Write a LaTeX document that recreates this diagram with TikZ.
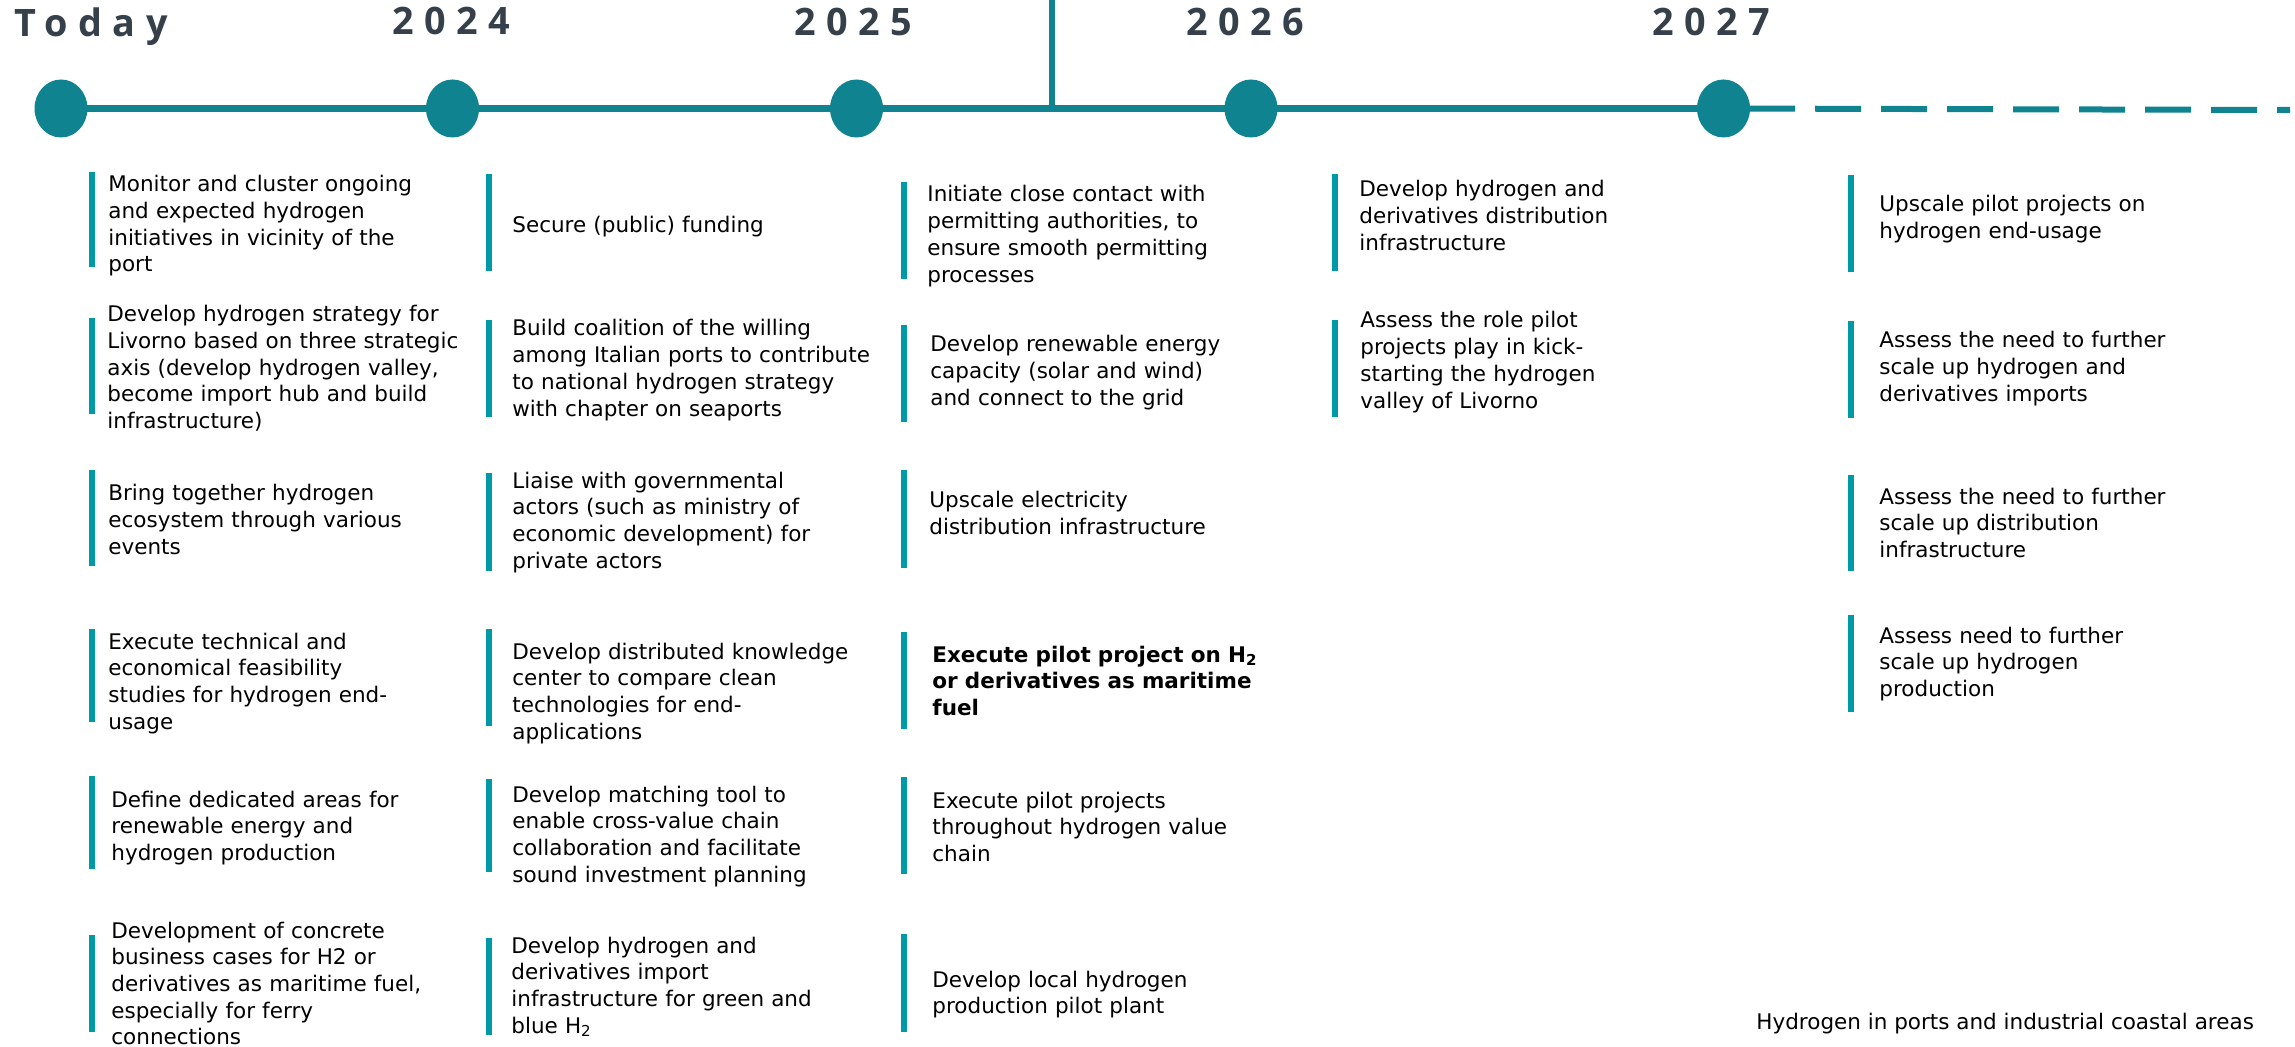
\documentclass[tikz,border=0pt]{standalone}
\usepackage{fontspec}
\setmainfont{DejaVu Sans}
\newfontfamily\yearfont[LetterSpace=28]{Open Sans}
\usetikzlibrary{shapes.geometric}
\definecolor{tlteal}{HTML}{0F838F}
\definecolor{barteal}{HTML}{0099A8}
\definecolor{yeargray}{HTML}{36404A}

\begin{document}
\begin{tikzpicture}[x=0.5pt, y=-0.5pt]
    \tikzstyle{milestone} = [ellipse, fill=tlteal, minimum width=26.5pt,
        minimum height=29pt, inner sep=0pt]
    \tikzstyle{year} = [anchor=base west, inner sep=0pt, text=yeargray,
        font=\yearfont\bfseries\fontsize{18.9}{22}\selectfont]
    \tikzstyle{timeline} = [draw=tlteal, line width=3.5pt]
    \tikzstyle{bar} = [draw=barteal, line width=3pt]
    \tikzstyle{task} = [anchor=base west, inner sep=0pt, text width=220pt,
        align=left, font=\fontsize{10.75}{13.35}\selectfont]
    \useasboundingbox (0,0) rectangle (2295,1047);

    % years
    \node[year] (today) at (14,37) {Today};
    \node[year] (y2024) at (392,35) {2024};
    \node[year] (y2025) at (794,36) {2025};
    \node[year] (y2026) at (1186,36) {2026};
    \node[year] (y2027) at (1652,36) {2027};

    % timeline
    \node[milestone] (m0) at (61,108.5) {};
    \node[milestone] (m1) at (452.5,108.5) {};
    \node[milestone] (m2) at (856.5,108.5) {};
    \node[milestone] (m3) at (1251,108.5) {};
    \node[milestone] (m4) at (1723.5,108.5) {};
    \draw[timeline] (m0.center) -- (m4.center);
    \coordinate (split) at (1052,0);
    \draw[timeline, line width=2.8pt] (split) -- (split |- m0);
    \coordinate (dashbeg) at (1795,108.7);
    \coordinate (tlend) at (2290,110);
    \draw[timeline, line width=3pt] (m4.center) -- (dashbeg);
    \draw[timeline, line width=3pt, dash pattern=on 23pt off 10pt, dash phase=23pt]
        (dashbeg) -- (tlend);

    % today
    \draw[bar] (92,172) -- (92,267);
    \node[task] (monitor) at (108,191.7) {Monitor and cluster ongoing\\and expected hydrogen\\initiatives in vicinity of the\\port};
    \draw[bar] (92,318) -- (92,414);
    \node[task] (strategy) at (107,321.7) {Develop hydrogen strategy for\\Livorno based on three strategic\\axis (develop hydrogen valley,\\become import hub and build\\infrastructure)};
    \draw[bar] (92,470) -- (92,566);
    \node[task] (ecosystem) at (108,501) {Bring together hydrogen\\ecosystem through various\\events};
    \draw[bar] (92,629) -- (92,722);
    \node[task] (feasibility) at (108,649) {Execute technical and\\economical feasibility\\studies for hydrogen end-\\usage};
    \draw[bar] (92,776) -- (92,869);
    \node[task] (areas) at (111,807) {Define dedicated areas for\\renewable energy and\\hydrogen production};
    \draw[bar] (92,935) -- (92,1032);
    \node[task] (cases) at (111,938) {Development of concrete\\business cases for H2 or\\derivatives as maritime fuel,\\especially for ferry\\connections};

    % 2024
    \draw[bar] (489,174) -- (489,271);
    \node[task] (funding) at (512,233) {Secure (public) funding};
    \draw[bar] (489,320) -- (489,417);
    \node[task] (coalition) at (512,336) {Build coalition of the willing\\among Italian ports to contribute\\to national hydrogen strategy\\with chapter on seaports};
    \draw[bar] (489,473) -- (489,571);
    \node[task] (liaise) at (512,488) {Liaise with governmental\\actors (such as ministry of\\economic development) for\\private actors};
    \draw[bar] (489,629) -- (489,726);
    \node[task] (knowledge) at (512,659) {Develop distributed knowledge\\center to compare clean\\technologies for end-\\applications};
    \draw[bar] (489,779) -- (489,872);
    \node[task] (matching) at (512,802) {Develop matching tool to\\enable cross-value chain\\collaboration and facilitate\\sound investment planning};
    \draw[bar] (489,938) -- (489,1035);
    \node[task] (imports) at (511,953) {Develop hydrogen and\\derivatives import\\infrastructure for green and\\blue H\textsubscript{2}};

    % 2025
    \draw[bar] (904,182) -- (904,279);
    \node[task] (permits) at (927,202) {Initiate close contact with\\permitting authorities, to\\ensure smooth permitting\\processes};
    \draw[bar] (904,325) -- (904,422);
    \node[task] (renewables) at (930,352) {Develop renewable energy\\capacity (solar and wind)\\and connect to the grid};
    \draw[bar] (904,470) -- (904,568);
    \node[task] (grid) at (929,508) {Upscale electricity\\distribution infrastructure};
    \draw[bar] (904,632) -- (904,729);
    \node[task, font=\bfseries\fontsize{10.75}{13.35}\selectfont] (fuel) at (932,662) {Execute pilot project on H\textsubscript{2}\\or derivatives as maritime\\fuel};
    \draw[bar] (904,777) -- (904,874);
    \node[task] (pilots) at (932,808) {Execute pilot projects\\throughout hydrogen value\\chain};
    \draw[bar] (904,934) -- (904,1032);
    \node[task] (plant) at (932,987) {Develop local hydrogen\\production pilot plant};

    % 2026
    \draw[bar] (1335,174) -- (1335,271);
    \node[task] (distribution) at (1359,197) {Develop hydrogen and\\derivatives distribution\\infrastructure};
    \draw[bar] (1335,320) -- (1335,417);
    \node[task] (valley) at (1360,328) {Assess the role pilot\\projects play in kick-\\starting the hydrogen\\valley of Livorno};

    % 2027
    \draw[bar] (1851,175) -- (1851,272);
    \node[task] (enduse) at (1879,212) {Upscale pilot projects on\\hydrogen end-usage};
    \draw[bar] (1851,321) -- (1851,418);
    \node[task] (moreimports) at (1879,348) {Assess the need to further\\scale up hydrogen and\\derivatives imports};
    \draw[bar] (1851,475) -- (1851,571);
    \node[task] (moredistribution) at (1879,504) {Assess the need to further\\scale up distribution\\infrastructure};
    \draw[bar] (1851,615) -- (1851,712);
    \node[task] (production) at (1879,643) {Assess need to further\\scale up hydrogen\\production};

    \node[anchor=base west, inner sep=0pt, font=\fontsize{10.75}{13}\selectfont]
        (caption) at (1756,1029) {Hydrogen in ports and industrial coastal areas};
\end{tikzpicture}
\end{document}
